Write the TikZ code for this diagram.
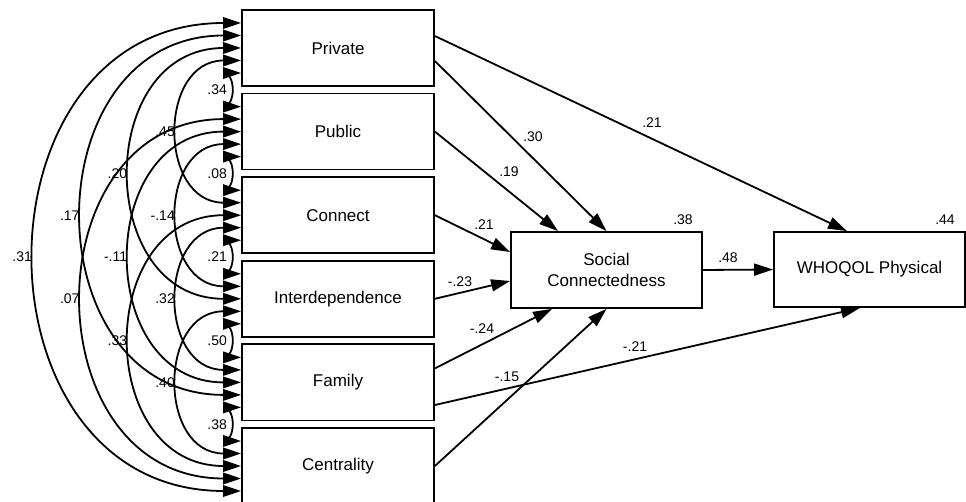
\documentclass[tikz,border=0pt]{standalone}
\usepackage{fontspec}
\setmainfont{Liberation Sans}
\usetikzlibrary{arrows.meta}
\begin{document}
\begin{tikzpicture}[x=1pt,y=-1pt,line width=1.8pt,
  box/.style={draw, fill=white, minimum width=192pt, minimum height=76pt, inner sep=0pt,
    font=\fontsize{17}{20.5}\selectfont, align=center},
  rbox/.style={box, minimum width=191pt},
  tip/.style={-{Triangle[length=19pt,width=12pt]}},
  cov/.style={{Triangle[length=18pt,width=11.5pt]}-{Triangle[length=18pt,width=11.5pt]}},
  lbl/.style={font=\fontsize{14}{16}\selectfont, inner sep=0pt},
  clbl/.style={lbl, left, inner sep=3pt},
  slbl/.style={lbl, xshift=-20pt}
]
\useasboundingbox (0,0) rectangle (966,502);
\fill[white] (0,0) rectangle (966,502);

% exogenous boxes
\node[box] (Pr) at (338,48)    {Private};
\node[box] (Pu) at (338,131.6) {Public};
\node[box] (Co) at (338,215.2) {Connect};
\node[box] (In) at (338,298.8) {Interdependence};
\node[box] (Fa) at (338,382.4) {Family};
\node[box] (Ce) at (338,466)   {Centrality};

% endogenous boxes
\node[rbox] (SC) at (606.5,270) {Social\\Connectedness};
\node[rbox, minimum height=75pt] (WH) at (869.5,269.5) {WHOQOL Physical};

% covariance slots on the left sides
\foreach \n in {Pr,Pu,Co,In,Fa,Ce}{
  \coordinate (\n1) at ([yshift=25pt]\n.west);
  \coordinate (\n2) at ([yshift=12.5pt]\n.west);
  \coordinate (\n3) at (\n.west);
  \coordinate (\n4) at ([yshift=-12.5pt]\n.west);
  \coordinate (\n5) at ([yshift=-25pt]\n.west);
}

% adjacent covariances
\draw[cov] (Pr5) to[out=180,in=180,looseness=0.4] coordinate[pos=0.5] (m1) (Pu1);
\draw[cov] (Pu5) to[out=180,in=180,looseness=0.4] coordinate[pos=0.5] (m2) (Co1);
\draw[cov] (Co5) to[out=180,in=180,looseness=0.4] coordinate[pos=0.5] (m3) (In1);
\draw[cov] (In5) to[out=180,in=180,looseness=0.4] coordinate[pos=0.5] (m4) (Fa1);
\draw[cov] (Fa5) to[out=180,in=180,looseness=0.4] coordinate[pos=0.5] (m5) (Ce1);

% span 2
\draw[cov] (Pr4) to[out=180,in=180,looseness=1.5] node[clbl,pos=0.5] (k6) {.45} (Co2);
\draw[cov] (Pu4) to[out=180,in=180,looseness=1.5] node[clbl,pos=0.5] (k7) {-.14} (In2);
\draw[cov] (Co4) to[out=180,in=180,looseness=1.5] node[clbl,pos=0.5] (k8) {.32} (Fa2);
\draw[cov] (In4) to[out=180,in=180,looseness=1.5] node[clbl,pos=0.5] (k9) {.40} (Ce2);

% span 3
\draw[cov] (Pr3) to[out=180,in=180,looseness=1.5] node[clbl,pos=0.5] (k10) {.20} (In3);
\draw[cov] (Pu3) to[out=180,in=180,looseness=1.5] node[clbl,pos=0.5] (k11) {-.11} (Fa3);
\draw[cov] (Co3) to[out=180,in=180,looseness=1.5] node[clbl,pos=0.5] (k12) {.33} (Ce3);

% span 4
\draw[cov] (Pr2) to[out=180,in=180,looseness=1.5] node[clbl,pos=0.5] (k13) {.17} (Fa4);
\draw[cov] (Pu2) to[out=180,in=180,looseness=1.5] node[clbl,pos=0.5] (k14) {.07} (Ce4);

% span 5
\draw[cov] (Pr1) to[out=180,in=180,looseness=1.5] node[clbl,pos=0.5] (k15) {.31} (Ce5);

% labels of adjacent covariances (on top)
\node[slbl] (k1) at (m1) {.34};
\node[slbl] (k2) at (m2) {.08};
\node[slbl] (k3) at (m3) {.21};
\node[slbl] (k4) at (m4) {.50};
\node[slbl] (k5) at (m5) {.38};

% regression paths
\coordinate (PrA) at ([yshift=12pt]Pr.east);
\coordinate (PrB) at ([yshift=-13pt]Pr.east);
\coordinate (FaA) at ([yshift=14pt]Fa.east);
\coordinate (FaB) at ([yshift=-22.6pt]Fa.east);
\coordinate (WHn) at ([xshift=-22.5pt]WH.north);
\coordinate (WHs) at ([xshift=-9.5pt]WH.south);
\coordinate (SCn) at ([xshift=-48.5pt]SC.north);
\coordinate (SCw1) at ([yshift=18pt]SC.west);
\coordinate (SCw2) at ([yshift=-11pt]SC.west);
\coordinate (SCs) at ([xshift=-54.5pt]SC.south);

\draw[tip] (PrA) -- (WHn);
\draw[tip] (PrB) -- (SC.north);
\draw[tip] (Pu.east) -- (SCn);
\draw[tip] (Co.east) -- (SCw1);
\draw[tip] (In.east) -- (SCw2);
\draw[tip] (FaA) -- (SCs);
\draw[tip] (FaB) -- (WHs);
\draw[tip] (Ce.east) -- (SC.south);
\draw[tip] (SC.east) -- (WH.west);

% path labels
\node[lbl] (r1) at (652,123) {.21};
\node[lbl] (r2) at (533,137) {.30};
\node[lbl] (r3) at (509,172) {.19};
\node[lbl] (r4) at (484,225) {.21};
\node[lbl] (r5) at (460,282) {-.23};
\node[lbl] (r6) at (482,329) {-.24};
\node[lbl] (r7) at (507,377) {-.15};
\node[lbl] (r8) at (635,347) {-.21};
\node[lbl] (r9) at (728,258) {.48};
\node[lbl] (q1) at (683,220) {.38};
\node[lbl] (q2) at (945,220) {.44};
\end{tikzpicture}
\end{document}
